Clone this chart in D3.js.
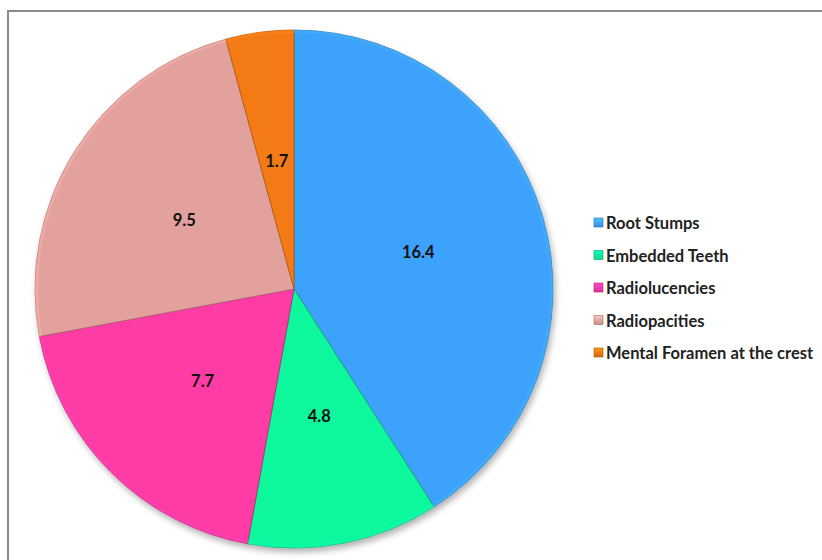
<!DOCTYPE html>
<html>
<head>
<meta charset="utf-8">
<script src="https://cdn.jsdelivr.net/npm/d3@7"></script>
<style>
html,body{margin:0;padding:0;background:#fff;}
svg{display:block;}
</style>
</head>
<body>
<svg id="chart" width="822" height="560"></svg>
<script>
const categories = ["Root Stumps","Embedded Teeth","Radiolucencies","Radiopacities","Mental Foramen at the crest"];
const values = [16.4, 4.8, 7.7, 9.5, 1.7];
const labels = ["16.4","4.8","7.7","9.5","1.7"];
const colors = ["#3DA2FB","#0FF79C","#FF3BA6","#E3A19D","#F47A12"];
const strokeColors = ["#2a6fb0","#0a9e63","#b0246f","#9e6d6a","#a8520a"];

const svg = d3.select("#chart");

// frame
svg.append("path").attr("d", "M8,560 V11 H822").attr("fill","none").attr("stroke","#8a8a8a").attr("stroke-width",2);

const defs = svg.append("defs");
const f = defs.append("filter").attr("id","shadow").attr("x","-20%").attr("y","-20%").attr("width","140%").attr("height","140%");
f.append("feDropShadow").attr("dx",2).attr("dy",4).attr("stdDeviation",3).attr("flood-color","#000").attr("flood-opacity",0.3);

categories.forEach((c,i)=>{
  const g = defs.append("linearGradient").attr("id","lg"+i).attr("x1","0").attr("y1","0").attr("x2","0").attr("y2","1");
  g.append("stop").attr("offset","0%").attr("stop-color", d3.color(colors[i]).brighter(0.6));
  g.append("stop").attr("offset","100%").attr("stop-color", d3.color(colors[i]).darker(0.4));
});

const cx = 294, cy = 289, r = 259;
const data = categories.map((c,i)=>({name:c, value:values[i], label:labels[i], i}));
const pie = d3.pie().value(d=>d.value).sort(null);
const arcs = pie(data);
const arc = d3.arc().innerRadius(0).outerRadius(r);
const labelArc = d3.arc().innerRadius(r*0.5).outerRadius(r*0.5);
const bevel = d3.arc().innerRadius(r-3).outerRadius(r);

const g = svg.append("g").attr("transform",`translate(${cx},${cy})`);
const gs = g.append("g").attr("filter","url(#shadow)");
gs.selectAll("path.slice").data(arcs).join("path")
  .attr("class","slice")
  .attr("d", arc)
  .attr("fill", d=>colors[d.data.i])
  .attr("stroke", d=>strokeColors[d.data.i])
  .attr("stroke-width",1)
  .attr("stroke-opacity",0.7);
g.selectAll("path.rim").data(arcs).join("path")
  .attr("class","rim")
  .attr("d", bevel)
  .attr("fill", d=>d3.color(colors[d.data.i]).brighter(0.3))
  .attr("opacity",0.5);

g.selectAll("text.val").data(arcs).join("text")
  .attr("class","val")
  .attr("transform", d=>`translate(${labelArc.centroid(d)})`)
  .attr("text-anchor","middle")
  .attr("dominant-baseline","central")
  .attr("font-family","Lato, 'Open Sans', sans-serif")
  .attr("font-weight","bold")
  .attr("font-size",16.5)
  .attr("fill","#111")
  .text(d=>d.data.label);

// legend
const lx = 594, ly0 = 223, step = 32.5;
const leg = svg.append("g");
const items = leg.selectAll("g").data(data).join("g")
  .attr("transform",(d,i)=>`translate(${lx},${ly0 + i*step})`);
items.append("rect").attr("x",0).attr("y",-5).attr("width",9).attr("height",9)
  .attr("fill",d=>`url(#lg${d.i})`).attr("stroke",d=>strokeColors[d.i]).attr("stroke-width",0.6);
items.append("text").attr("x",12).attr("y",0)
  .attr("dominant-baseline","central")
  .attr("font-family","Lato, 'Open Sans', sans-serif")
  .attr("font-weight","bold")
  .attr("font-size",16.5)
  .attr("fill","#222")
  .text(d=>d.name);
</script>
</body>
</html>
